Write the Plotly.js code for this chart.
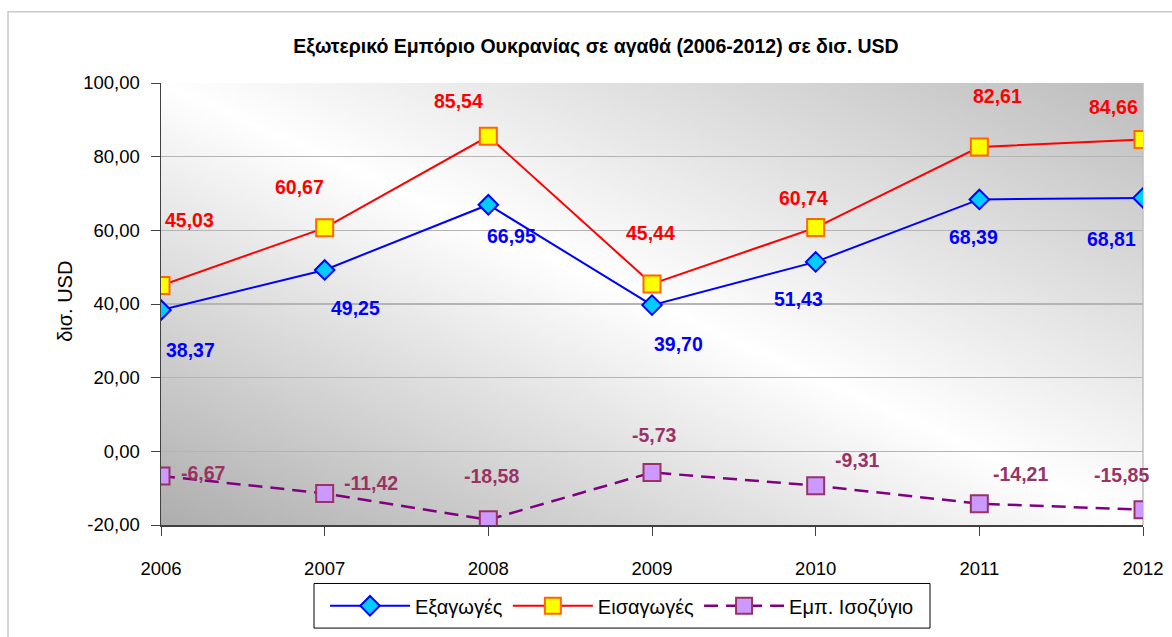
<!DOCTYPE html>
<html>
<head>
<meta charset="utf-8">
<script src="https://cdn.plot.ly/plotly-3.0.1.min.js"></script>
<style>
html,body{margin:0;padding:0;background:#fff;}
#chart{width:1172px;height:637px;}
</style>
</head>
<body>
<div id="chart"></div>
<script>
// ---- data ----
var years = [2006, 2007, 2008, 2009, 2010, 2011, 2012];
var exportsVals = [38.37, 49.25, 66.95, 39.70, 51.43, 68.39, 68.81];
var importsVals = [45.03, 60.67, 85.54, 45.44, 60.74, 82.61, 84.66];
var balanceVals = [-6.67, -11.42, -18.58, -5.73, -9.31, -14.21, -15.85];
var seriesNames = ['Εξαγωγές', 'Εισαγωγές', 'Εμπ. Ισοζύγιο'];
var yTickVals = [-20, 0, 20, 40, 60, 80, 100];

// ---- label offsets (pixels, label centre relative to marker) ----
var exportsDx = [29, 31, 23, 26, -17, -6, -32];
var exportsDy = [40, 38, 31, 39, 37, 38, 41];
var importsDx = [28, -25, -30, -2, -12, 18, -30];
var importsDy = [-65, -41, -35, -51, -30, -51, -33];
var balanceDx = [42, 46, 3, 2, 42, 41, -22];
var balanceDy = [-3, -10, -44, -37, -26, -30, -35];

var FONT = '"Liberation Sans", Arial, sans-serif';

function fmt(v){ return v.toFixed(2).replace('.', ','); }

// gradient background image
function makeBg(){
  var c = document.createElement('canvas');
  c.width = 400; c.height = 400;
  var ctx = c.getContext('2d');
  var g = ctx.createLinearGradient(400, 0, 0, 400);
  g.addColorStop(0, '#bdbdbd');
  g.addColorStop(0.5, '#ffffff');
  g.addColorStop(1, '#aeaeae');
  ctx.fillStyle = g;
  ctx.fillRect(0, 0, 400, 400);
  return c.toDataURL('image/png');
}

var traces = [
  {x: years, y: exportsVals, name: seriesNames[0], type: 'scatter', mode: 'lines+markers',
   line: {color: '#0000ff', width: 2},
   marker: {symbol: 'diamond', size: 15, color: '#00ccff', line: {color: '#0000ff', width: 2}}},
  {x: years, y: importsVals, name: seriesNames[1], type: 'scatter', mode: 'lines+markers',
   line: {color: '#ff0000', width: 2},
   marker: {symbol: 'square', size: 17, color: '#ffff00', line: {color: '#ff6600', width: 2}}},
  {x: years, y: balanceVals, name: seriesNames[2], type: 'scatter', mode: 'lines+markers',
   line: {color: '#800080', width: 2.5, dash: '14px,8px'},
   marker: {symbol: 'square', size: 17, color: '#cc99ff', line: {color: '#993366', width: 2}}}
];

var annotations = [];
function addLabels(vals, dx, dy, color){
  for (var i = 0; i < years.length; i++){
    annotations.push({x: years[i], y: vals[i], xref: 'x', yref: 'y', text: fmt(vals[i]),
      showarrow: false, xanchor: 'center', yanchor: 'middle', xshift: dx[i], yshift: -dy[i],
      font: {family: FONT, size: 19.5, color: color, weight: 'bold'}});
  }
}
addLabels(exportsVals, exportsDx, exportsDy, '#0000ff');
addLabels(importsVals, importsDx, importsDy, '#ff0000');
addLabels(balanceVals, balanceDx, balanceDy, '#993366');

annotations.push({xref: 'paper', yref: 'paper', x: -0.0978, y: 0.507, text: 'δισ. USD',
  textangle: -90, showarrow: false, xanchor: 'center', yanchor: 'middle',
  font: {family: FONT, size: 20, color: '#000'}});

// legend box geometry in paper units (plot area: x 161..1143, y 83..529)
var legendBox = {x0: (314 - 161) / 982, x1: (930 - 161) / 982, y0: (529 - 633) / 446, y1: (529 - 588) / 446};

var layout = {
  width: 1172, height: 637,
  margin: {l: 161, r: 29, t: 83, b: 108, pad: 0},
  paper_bgcolor: '#ffffff',
  plot_bgcolor: '#e8e8e8',
  separators: ',.',
  showlegend: true,
  title: {text: '<b>Εξωτερικό Εμπόριο Ουκρανίας σε αγαθά (2006-2012) σε δισ. USD</b>',
    xref: 'container', yref: 'container', x: 0.5085, y: 0.9278, xanchor: 'center', yanchor: 'middle',
    font: {family: FONT, size: 19.5, color: '#000'}},
  xaxis: {type: 'linear', range: [2006, 2012], tickmode: 'array', tickvals: years,
    ticktext: years.map(String), showgrid: false, zeroline: false,
    showline: true, linecolor: '#404040', linewidth: 1.5,
    ticks: 'outside', ticklen: 9, tickcolor: '#404040', tickwidth: 1, ticklabelstandoff: 17,
    tickfont: {family: FONT, size: 18.5, color: '#000'}, fixedrange: true},
  yaxis: {range: [-20, 100], tickmode: 'array', tickvals: yTickVals,
    ticktext: yTickVals.map(function(v){ return fmt(v); }),
    showgrid: true, gridcolor: '#b4b4b4', gridwidth: 1.5, zeroline: false,
    showline: true, linecolor: '#404040', linewidth: 1.5,
    ticks: 'outside', ticklen: 9, tickcolor: '#404040', tickwidth: 1, ticklabelstandoff: 7,
    tickfont: {family: FONT, size: 18.5, color: '#000'}, fixedrange: true},
  legend: {orientation: 'h', x: (legendBox.x0 + legendBox.x1) / 2, xanchor: 'center',
    y: (legendBox.y0 + legendBox.y1) / 2, yanchor: 'middle',
    bgcolor: 'rgba(0,0,0,0)', borderwidth: 0, itemwidth: 80,
    font: {family: FONT, size: 20, color: '#000'}, tracegroupgap: 0},
  images: [{source: makeBg(), xref: 'paper', yref: 'paper', x: 0, y: 1, sizex: 1, sizey: 1,
    sizing: 'stretch', xanchor: 'left', yanchor: 'top', layer: 'below'}],
  shapes: [
    {type: 'line', xref: 'paper', yref: 'paper', x0: 1, x1: 1, y0: 0, y1: 1,
     line: {color: '#c0c0c0', width: 1.5}, layer: 'below'},
    {type: 'rect', xref: 'paper', yref: 'paper', x0: -0.1558, x1: 1.04, y0: -0.26, y1: 1.1614,
     line: {color: '#c8c8c8', width: 1.5}, fillcolor: 'rgba(0,0,0,0)', layer: 'below'},
    {type: 'rect', xref: 'paper', yref: 'paper', x0: legendBox.x0, x1: legendBox.x1,
     y0: legendBox.y0, y1: legendBox.y1,
     line: {color: '#000000', width: 1}, fillcolor: '#ffffff', layer: 'above'}
  ],
  annotations: annotations
};

Plotly.newPlot('chart', traces, layout, {displayModeBar: false, staticPlot: true});
</script>
</body>
</html>
